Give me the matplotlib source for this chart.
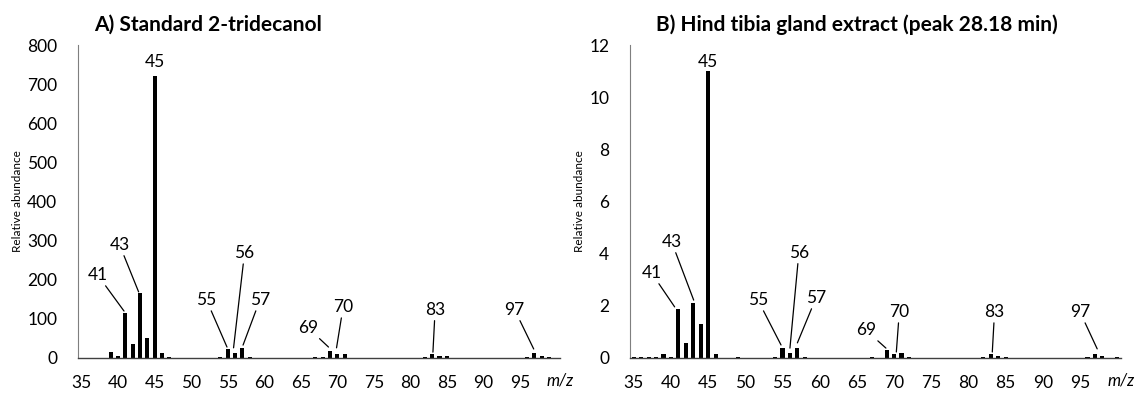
import numpy as np
import matplotlib
matplotlib.use('Agg')
import matplotlib.pyplot as plt

plt.rcParams['font.family'] = ['Lato', 'DejaVu Sans']

# --- data: m/z and relative abundance ---
mz_a = [39, 40, 41, 42, 43, 44, 45, 46, 47, 53, 54, 55, 56, 57, 58,
        67, 68, 69, 70, 71, 82, 83, 84, 85, 96, 97, 98, 99]
ab_a = [15, 5, 115, 37, 165, 51, 722, 14, 3, 1, 2, 22, 13, 25, 3,
        2, 2, 18, 11, 10, 2, 9, 5, 4, 2, 13, 4, 2]

mz_b = [35, 36, 37, 38, 39, 40, 41, 42, 43, 44, 45, 46, 49, 54, 55, 56, 57, 58,
        67, 69, 70, 71, 72, 82, 83, 84, 85, 96, 97, 98, 100]
ab_b = [0.05, 0.05, 0.05, 0.05, 0.14, 0.05, 1.87, 0.58, 2.12, 1.32, 11.0, 0.14,
        0.02, 0.04, 0.40, 0.20, 0.40, 0.05,
        0.05, 0.30, 0.17, 0.20, 0.02, 0.03, 0.14, 0.07, 0.03, 0.03, 0.17, 0.06, 0.02]

# peak labels: (label, text x, text y, line end x, line end y)
labels_a = [(41, 37.2, 212, 40.8, 120), (43, 40.2, 289, 42.8, 169),
            (55, 52.1, 148, 54.9, 28), (56, 57.3, 268, 55.8, 26),
            (57, 59.4, 148, 57.1, 33), (69, 66.0, 77, 68.8, 28),
            (70, 70.8, 130, 69.9, 26), (83, 83.4, 123, 83.1, 15),
            (97, 94.3, 123, 96.9, 23)]
labels_b = [(41, 37.4, 3.26, 40.5, 1.96), (43, 40.1, 4.45, 43.06, 2.22),
            (55, 51.7, 2.22, 54.8, 0.5), (56, 57.2, 4.03, 56.0, 0.38),
            (57, 59.5, 2.3, 57.0, 0.58), (69, 66.2, 1.07, 68.9, 0.38),
            (70, 70.7, 1.76, 70.3, 0.23), (83, 83.5, 1.76, 83.2, 0.23),
            (97, 95.0, 1.76, 97.3, 0.35)]

xticks = list(range(35, 100, 5))
W, H = 1143, 395


def draw_panel(rect, mz, ab, labels, ymax, ystep, top_label_y, title, title_x):
    l, r, b, t = rect
    ax = fig.add_axes([l / W, 1 - b / H, (r - l) / W, (b - t) / H])
    ax.bar(mz, ab, width=0.55, color='black')
    ax.set_xlim(34.5, 100.5)
    ax.set_ylim(0, ymax)
    ax.set_xticks(xticks)
    ax.set_yticks(np.arange(0, ymax + ystep / 2, ystep))
    ax.tick_params(length=0, labelsize=12.5, pad=15)
    ax.tick_params(axis='x', pad=12)
    for s in ['top', 'right']:
        ax.spines[s].set_visible(False)
    ax.spines['left'].set_color('#7f7f7f')
    ax.spines['left'].set_linewidth(0.8)
    ax.spines['bottom'].set_color('#404040')
    ax.spines['bottom'].set_linewidth(1.0)
    ax.set_ylabel('Relative abundance', fontsize=8.5, labelpad=3)
    for lab, tx, ty, ex, ey in labels:
        ax.annotate(str(lab), xy=(ex, ey), xytext=(tx, ty), ha='center', va='center',
                    fontsize=12.5,
                    arrowprops=dict(arrowstyle='-', color='black', lw=0.9,
                                    shrinkA=0, shrinkB=0))
    ax.text(45, top_label_y, '45', ha='center', va='center', fontsize=12.5)
    fig.text(r / W, 1 - 381 / H, 'm/z', fontsize=12, style='italic',
             ha='center', va='center')
    fig.text(title_x / W, 1 - 25 / H, title, ha='center', va='center',
             fontsize=15, fontweight='bold')
    return ax


fig = plt.figure(figsize=(W / 100, H / 100), dpi=100)
draw_panel((78, 560, 358, 45), mz_a, ab_a, labels_a, 800, 100, 757,
           'A) Standard 2-tridecanol', 208)
draw_panel((630, 1121, 358, 45), mz_b, ab_b, labels_b, 12, 2, 11.35,
           'B) Hind tibia gland extract (peak 28.18 min)', 857)

plt.savefig('out.png', dpi=100)
plt.close()
